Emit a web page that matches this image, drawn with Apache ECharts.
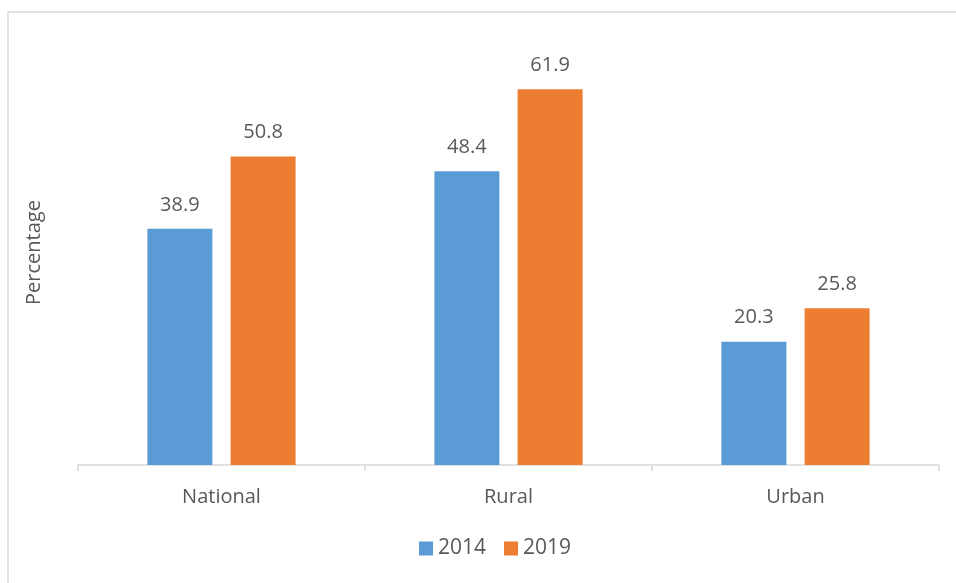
<!DOCTYPE html>
<html><head><meta charset="utf-8">
<script src="https://cdn.jsdelivr.net/npm/echarts@6/dist/echarts.min.js"></script>
<style>html,body{margin:0;padding:0;background:#fff}#c{width:956px;height:583px}</style>
</head><body><div id="c"></div>
<script>
const categories = ['National', 'Rural', 'Urban'];
const seriesNames = ['2014', '2019'];
const values2014 = [38.9, 48.4, 20.3];
const values2019 = [50.8, 61.9, 25.8];
const yTitle = 'Percentage';

const chart = echarts.init(document.getElementById('c'), null, {renderer: 'canvas'});
const font = '"Open Sans", sans-serif';
const txt = '#595959';
const fs = 20;
chart.setOption({
  animation: false,
  textStyle: {fontFamily: font},
  graphic: [{type: 'rect', x: 8, y: 12, shape: {x: 0, y: 0, width: 1200, height: 800}, style: {fill: 'none', stroke: '#d9d9d9', lineWidth: 1.5}, silent: true}],
  grid: {left: 78, right: 17, top: 40, bottom: 118},
  legend: {
    bottom: 19, left: 414, itemWidth: 14, itemHeight: 14, itemGap: 18,
    icon: 'rect',
    textStyle: {color: txt, fontSize: 21, fontFamily: font}
  },
  xAxis: {
    type: 'category', data: categories,
    axisLine: {lineStyle: {color: '#d9d9d9', width: 1.5}},
    axisTick: {show: true, length: 6, lineStyle: {color: '#d9d9d9', width: 1.5}},
    axisLabel: {color: txt, fontSize: fs, margin: 22, fontFamily: font}
  },
  yAxis: {
    type: 'value', min: 0, max: 70,
    name: yTitle, nameLocation: 'middle', nameGap: 34, nameRotate: 90,
    nameTextStyle: {color: txt, fontSize: fs, fontFamily: font},
    axisLine: {show: false}, axisTick: {show: false}, axisLabel: {show: false}, splitLine: {show: false}
  },
  series: [
    {name: seriesNames[0], type: 'bar', data: values2014, barWidth: 65, barGap: '28%',
     itemStyle: {color: '#5B9BD5'},
     label: {show: true, position: 'top', distance: 14, color: txt, fontSize: fs, fontFamily: font}},
    {name: seriesNames[1], type: 'bar', data: values2019, barWidth: 65,
     itemStyle: {color: '#ED7D31'},
     label: {show: true, position: 'top', distance: 14, color: txt, fontSize: fs, fontFamily: font}}
  ]
});
</script></body></html>
